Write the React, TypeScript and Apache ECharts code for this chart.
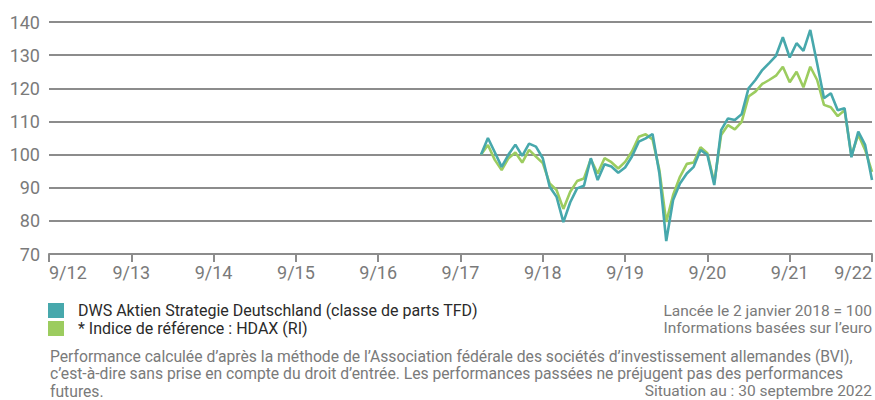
import React, { useEffect, useRef } from "react";
import * as echarts from "echarts";

// Month offsets counted from Sep 2012 (x axis runs Sep 2012 .. Sep 2022)
const startMonth = 63;
const yearTicks = ["9/12", "9/13", "9/14", "9/15", "9/16", "9/17", "9/18", "9/19", "9/20", "9/21", "9/22"];

const fundName = "DWS Aktien Strategie Deutschland (classe de parts TFD)";
const benchName = "* Indice de référence : HDAX (RI)";

const fundValues = [
  100, 105, 100.7, 96.3, 100, 103, 99.6, 103.3, 102.4, 98.9,
  90.3, 87.3, 79.6, 85.6, 89.8, 90.6, 98.9, 92.3, 97.1, 96.4,
  94.5, 96.1, 99.4, 103.9, 104.9, 106.2, 94.3, 73.9, 86.3, 91.3,
  94.3, 96.3, 101.4, 99.9, 90.8, 107.4, 110.9, 110.4, 112.2, 120,
  122.5, 125.5, 127.6, 129.8, 135.4, 129.3, 133.6, 131.3, 137.6, 127.5,
  117, 118.5, 113.4, 114, 99.2, 106.9, 102.9, 92.3,
];

const benchValues = [
  100, 102.9, 98.4, 95.3, 98.9, 100.6, 97.6, 101.4, 99.4, 97.4,
  91.3, 89.3, 83.6, 88.8, 92, 92.8, 98.6, 94.3, 98.9, 97.7,
  95.8, 97.8, 100.9, 105.4, 106.1, 104.6, 95.3, 79.7, 87.8, 93.3,
  97.2, 97.6, 102.2, 100.4, 91.5, 105.9, 108.9, 107.6, 109.9, 117.5,
  119, 121.3, 122.5, 123.8, 126.5, 121.8, 125, 120.3, 126.5, 122.5,
  115, 114.3, 111.6, 113.4, 99.8, 106, 101.4, 94.8,
];

const rightNotes = ["Lancée le 2 janvier 2018 = 100", "Informations basées sur l’euro"];
const footLines = [
  "Performance calculée d’après la méthode de l’Association fédérale des sociétés d’investissement allemandes (BVI),",
  "c’est-à-dire sans prise en compte du droit d’entrée. Les performances passées ne préjugent pas des performances",
  "futures.",
];
const dateNote = "Situation au : 30 septembre 2022";

const TEAL = "#47A8AC";
const GREEN = "#9CCC5F";
const GRID = "#8C8C8C";
const LABEL = "#7A7A7A";
const FONT = "Roboto, 'Noto Sans', sans-serif";

export default function App() {
  const ref = useRef<HTMLDivElement>(null);

  useEffect(() => {
    if (!ref.current) return;
    const chart = echarts.init(ref.current, null, { renderer: "svg" });
    const toPairs = (arr: number[]) => arr.map((v, i) => [startMonth + i, v]);

    const textStyle = (fill: string, size: number, lh: number, extra: any = {}) => ({
      fill,
      fontSize: size,
      lineHeight: lh,
      fontFamily: FONT,
      ...extra,
    });

    chart.setOption({
      animation: false,
      backgroundColor: "#ffffff",
      grid: { left: 49, right: 3, top: 22, bottom: 146, containLabel: false },
      xAxis: {
        type: "value",
        min: 0,
        max: 120,
        interval: 12,
        axisLine: { show: true, lineStyle: { color: GRID, width: 2 } },
        axisTick: { show: true, length: 8, lineStyle: { color: GRID, width: 2 } },
        splitLine: { show: false },
        axisLabel: {
          color: LABEL,
          fontSize: 18,
          fontFamily: FONT,
          margin: 9,
          alignMinLabel: "left",
          alignMaxLabel: "right",
          formatter: (v: number) => yearTicks[Math.round(v / 12)] ?? "",
        },
      },
      yAxis: {
        type: "value",
        min: 70,
        max: 140,
        interval: 10,
        axisLine: { show: false },
        axisTick: { show: false },
        splitLine: { show: true, lineStyle: { color: GRID, width: 2 } },
        axisLabel: { color: LABEL, fontSize: 18, fontFamily: FONT, margin: 9 },
      },
      series: [
        {
          name: benchName,
          type: "line",
          data: toPairs(benchValues),
          symbol: "none",
          lineStyle: { color: GREEN, width: 2.6 },
          itemStyle: { color: GREEN },
          z: 2,
        },
        {
          name: fundName,
          type: "line",
          data: toPairs(fundValues),
          symbol: "none",
          lineStyle: { color: TEAL, width: 2.6 },
          itemStyle: { color: TEAL },
          z: 3,
        },
      ],
      graphic: [
        { type: "rect", left: 48, top: 303, shape: { width: 16, height: 15 }, style: { fill: TEAL } },
        { type: "rect", left: 48, top: 321, shape: { width: 16, height: 15 }, style: { fill: GREEN } },
        { type: "text", left: 78, top: 302, style: textStyle("#2a2a2a", 16, 17, { text: fundName }) },
        { type: "text", left: 78, top: 319.5, style: textStyle("#2a2a2a", 16, 17, { text: benchName }) },
        { type: "text", right: 3, top: 302, style: textStyle(LABEL, 15.5, 17, { text: rightNotes[0] }) },
        { type: "text", right: 3, top: 319.5, style: textStyle(LABEL, 15.5, 17, { text: rightNotes[1] }) },
        { type: "text", left: 50, top: 348, style: textStyle(LABEL, 15.7, 16, { text: footLines[0] }) },
        { type: "text", left: 50, top: 365.5, style: textStyle(LABEL, 15.7, 16, { text: footLines[1] }) },
        { type: "text", left: 50, top: 383, style: textStyle(LABEL, 15.7, 16, { text: footLines[2] }) },
        { type: "text", right: 3, top: 383, style: textStyle(LABEL, 15.5, 16, { text: dateNote }) },
      ],
    });
    return () => chart.dispose();
  }, []);

  return (
    <div
      ref={ref}
      style={{ position: "fixed", left: 0, top: 0, width: 875, height: 400, background: "#fff" }}
    />
  );
}
